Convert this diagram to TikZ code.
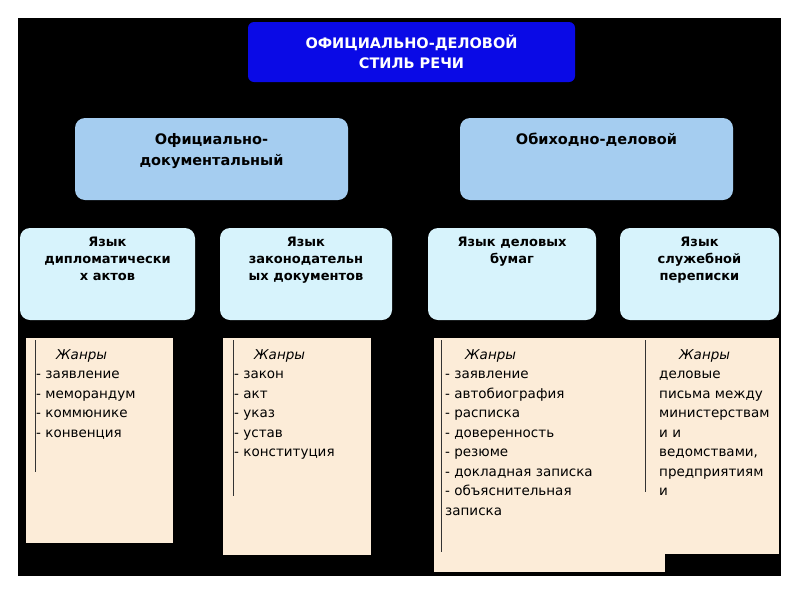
\documentclass[tikz,border=0pt]{standalone}
\usepackage{fontspec}
\setmainfont{DejaVu Sans}
\usetikzlibrary{positioning}
\definecolor{titleblue}{RGB}{10,10,230}
\definecolor{midblue}{RGB}{165,205,240}
\definecolor{lowcyan}{RGB}{215,243,252}
\definecolor{paper}{RGB}{252,236,216}
\tikzset{
  titlebox/.style={fill=titleblue,rounded corners=6pt,text=white,font=\bfseries\fontsize{14.5}{20}\selectfont,align=center},
  kindbox/.style={fill=midblue,rounded corners=10pt,font=\bfseries\fontsize{14.5}{21}\selectfont,align=center},
  langbox/.style={fill=lowcyan,rounded corners=10pt,font=\bfseries\fontsize{13}{17}\selectfont,align=center},
  genre/.style={anchor=north west,align=left,font=\fontsize{13.5}{19.5}\selectfont,inner sep=0pt},
  sheet/.style={fill=paper},
  margin/.style={draw=black!80,line width=1pt}
}
\begin{document}
\begin{tikzpicture}[x=1pt,y=-1pt]
  \useasboundingbox (0,0) rectangle (800,600);
  \fill[black] (18,18) rectangle (781,576);

  % top level
  \node[titlebox,minimum width=327,minimum height=60] (style) at (411.5,52) {ОФИЦИАЛЬНО-ДЕЛОВОЙ\\СТИЛЬ РЕЧИ};

  % two kinds
  \node[kindbox,minimum width=273,minimum height=82] (docs) at (211.5,159) {Официально-\\документальный\\[-2pt]};
  \node[kindbox,minimum width=273,minimum height=82] (daily) at (596.5,159) {Обиходно-деловой\\[20pt]};

  % languages
  \node[langbox,minimum width=175,minimum height=92] (dipl) at (107.5,274) {Язык\\дипломатически\\х актов\\[14pt]};
  \node[langbox,minimum width=172,minimum height=92] (law) at (306,274) {Язык\\законодательн\\ых документов\\[14pt]};
  \node[langbox,minimum width=168,minimum height=92] (paper) at (512,274) {Язык деловых\\бумаг\\[31pt]};
  \node[langbox,minimum width=159,minimum height=92] (mail) at (699.5,274) {Язык\\служебной\\переписки\\[14pt]};

  % genre sheets
  \fill[sheet] (26,338) rectangle (173,543);
  \draw[margin] (35,340) -- (35,472);
  \fill[sheet] (223,338) rectangle (371,555);
  \draw[margin] (233,340) -- (233,496);
  \fill[sheet] (434,338) rectangle (665,572);
  \fill[sheet] (665,338) rectangle (779,554);
  \draw[margin] (441,340) -- (441,552);
  \draw[margin] (645,340) -- (645,492);

  \node[genre] (g1) at (36,349) {\hspace*{20pt}\textit{Жанры}\\- заявление\\- меморандум\\- коммюнике\\- конвенция};
  \node[genre] (g2) at (234,349) {\hspace*{20pt}\textit{Жанры}\\- закон\\- акт\\- указ\\- устав\\- конституция};
  \node[genre] (g3) at (445,349) {\hspace*{20pt}\textit{Жанры}\\- заявление\\- автобиография\\- расписка\\- доверенность\\- резюме\\- докладная записка\\- объяснительная\\записка};
  \node[genre] (g4) at (659,349) {\hspace*{20pt}\textit{Жанры}\\деловые\\письма между\\министерствам\\и и\\ведомствами,\\предприятиям\\и};
\end{tikzpicture}
\end{document}
